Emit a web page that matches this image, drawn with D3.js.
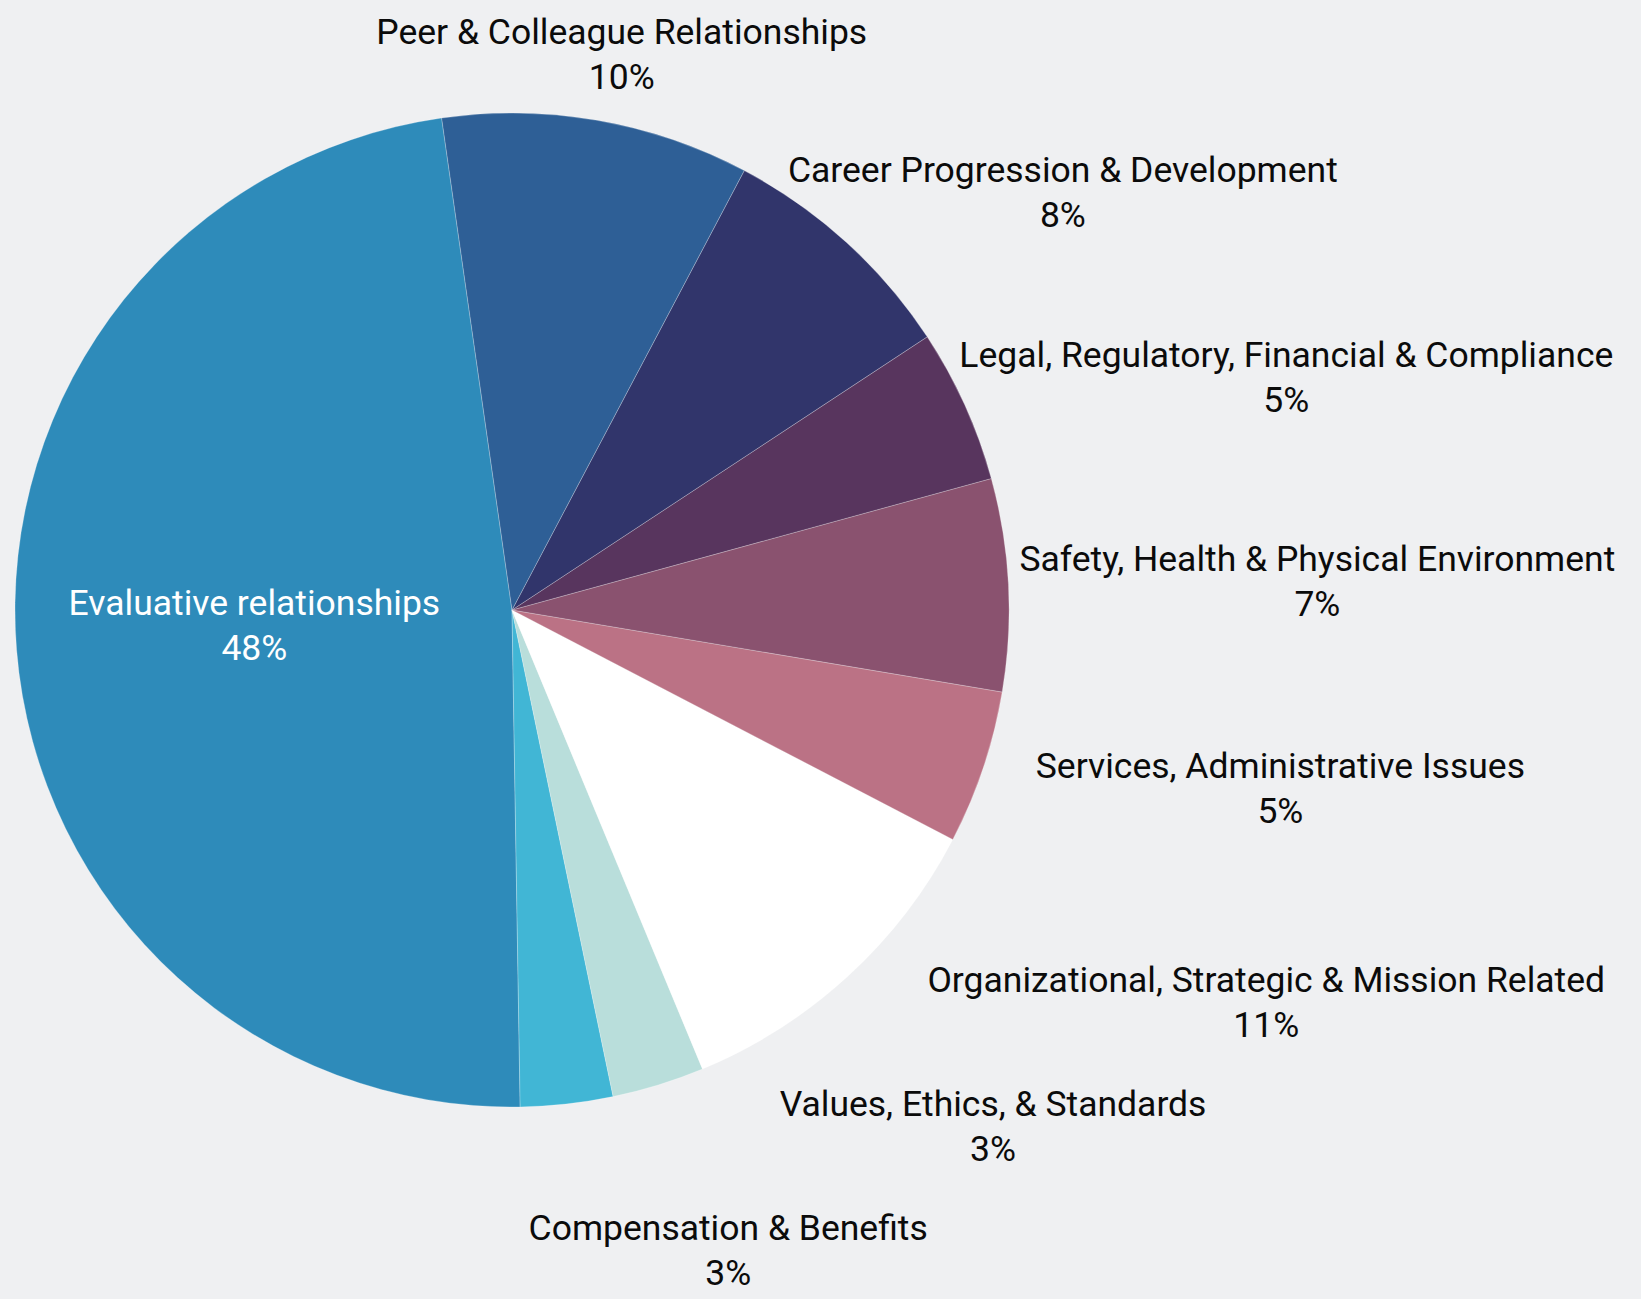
<!DOCTYPE html>
<html>
<head>
  <script src="https://d3js.org/d3.v7.min.js"></script>
  <style>
    body {
      margin: 0;
      background-color: #eff0f2;
    }
    svg {
      display: block;
    }
    .slice-label {
      font-family: Roboto, "Noto Sans", sans-serif;
      font-size: 35.5px;
    }
  </style>
</head>
<body>
  <svg id="pie" width="1641" height="1299"></svg>

  <script>
    // slices, in drawing order (counter-clockwise from the top)
    const categories = [
      'Evaluative relationships',
      'Compensation & Benefits',
      'Values, Ethics, & Standards',
      'Organizational, Strategic & Mission Related',
      'Services, Administrative Issues',
      'Safety, Health & Physical Environment',
      'Legal, Regulatory, Financial & Compliance',
      'Career Progression & Development',
      'Peer & Colleague Relationships'
    ];
    const shares = [48.0, 3.0, 3.0, 11.1, 5.0, 6.9, 5.0, 8.0, 10.0];
    const sliceColors = [
      '#2e8bba', '#41b6d5', '#b9dedb', '#ffffff', '#bb7285',
      '#8a526f', '#58355e', '#31356b', '#2e5f96'
    ];

    const width = 1641, height = 1299;
    const cx = 512, cy = 610, radius = 497;
    const startAngle = -8.14 * Math.PI / 180;
    const lineGap = 45;

    const svg = d3.select('#pie');
    svg.append('rect')
      .attr('width', width)
      .attr('height', height)
      .attr('fill', '#eff0f2');

    const total = d3.sum(shares);

    const pie = d3.pie()
      .sort(null)
      .startAngle(startAngle)
      .endAngle(startAngle - 2 * Math.PI);   // counter-clockwise
    const arcs = pie(shares);

    const arc = d3.arc().innerRadius(0).outerRadius(radius);
    const insideArc = d3.arc().innerRadius(radius * 0.52).outerRadius(radius * 0.52);

    const pieG = svg.append('g')
      .attr('transform', `translate(${cx},${cy})`);

    pieG.selectAll('path')
      .data(arcs)
      .enter()
      .append('path')
      .attr('d', arc)
      .attr('fill', (d, i) => sliceColors[i])
      .attr('stroke', '#ffffff')
      .attr('stroke-opacity', 0.35)
      .attr('stroke-width', 0.7);

    // label info
    const labels = arcs.map((d, i) => {
      let a = (d.startAngle + d.endAngle) / 2;
      a = ((a % (2 * Math.PI)) + 2 * Math.PI) % (2 * Math.PI);
      return {
        arc: d,
        name: categories[i],
        pct: Math.round(d.value / total * 100) + '%',
        a: a,
        inside: d.value / total > 0.2
      };
    });

    const labelG = svg.append('g');

    const texts = labelG.selectAll('text')
      .data(labels)
      .enter()
      .append('text')
      .attr('class', 'slice-label')
      .attr('text-anchor', 'middle')
      .attr('fill', d => d.inside ? '#ffffff' : '#0b0b0b');

    texts.append('tspan').attr('class', 'l1').text(d => d.name);
    texts.append('tspan').attr('class', 'l2').text(d => d.pct);

    texts.each(function (d) {
      d.width = d3.select(this).select('.l1').node().getComputedTextLength();
    });

    // inside label sits on a ring inside the slice
    labels.filter(l => l.inside).forEach(l => {
      const c = insideArc.centroid(l.arc);
      l.x = cx + c[0];
      l.yc = cy + c[1] - 5;
    });

    // outside labels: anchor just past the rim, then spread so they do not collide
    const rAnchor = radius + 15;
    const outside = labels.filter(l => !l.inside);
    outside.forEach(l => {
      l.px = cx + rAnchor * Math.sin(l.a);
      l.py = cy - rAnchor * Math.cos(l.a);
      l.yc = l.py - Math.cos(l.a) * lineGap * 1.15;
    });

    const minStep = 124;
    const yMin = 42, yMax = height - 14 - 34.5;
    [true, false].forEach(rightSide => {
      const side = outside
        .filter(l => (Math.sin(l.a) >= 0) === rightSide)
        .sort((p, q) => p.yc - q.yc);
      if (!side.length) return;
      side[0].yc = Math.max(side[0].yc, yMin);
      for (let i = 1; i < side.length; i++) {
        side[i].yc = Math.max(side[i].yc, side[i - 1].yc + minStep);
      }
      side[side.length - 1].yc = Math.min(side[side.length - 1].yc, yMax);
      for (let i = side.length - 2; i >= 0; i--) {
        side[i].yc = Math.min(side[i].yc, side[i + 1].yc - minStep);
      }
    });

    outside.forEach(l => {
      const w = l.width;
      const s = Math.sin(l.a) >= 0 ? 1 : -1;
      const upper = Math.cos(l.a) >= 0;
      // distance of the near edge of the text from the centre line
      let near = upper
        ? Math.abs(l.px - cx) + Math.abs(Math.sin(l.a)) * w / 2 - w / 2 - 20
        : Math.abs(l.px - cx) - 40;
      // keep the first line clear of the pie
      const bandTop = l.yc - 47.5, bandBot = l.yc - 10.5;
      const dy = cy < bandTop ? bandTop - cy : (cy > bandBot ? cy - bandBot : 0);
      const R = upper ? radius + 12 : radius + 43;
      if (dy < R) near = Math.max(near, Math.sqrt(R * R - dy * dy));
      l.x = cx + s * (near + w / 2);
    });

    texts.select('.l1')
      .attr('x', d => d.x)
      .attr('y', d => d.yc - 10.5);
    texts.select('.l2')
      .attr('x', d => d.x)
      .attr('y', d => d.yc + 34.5);
  </script>
</body>
</html>
